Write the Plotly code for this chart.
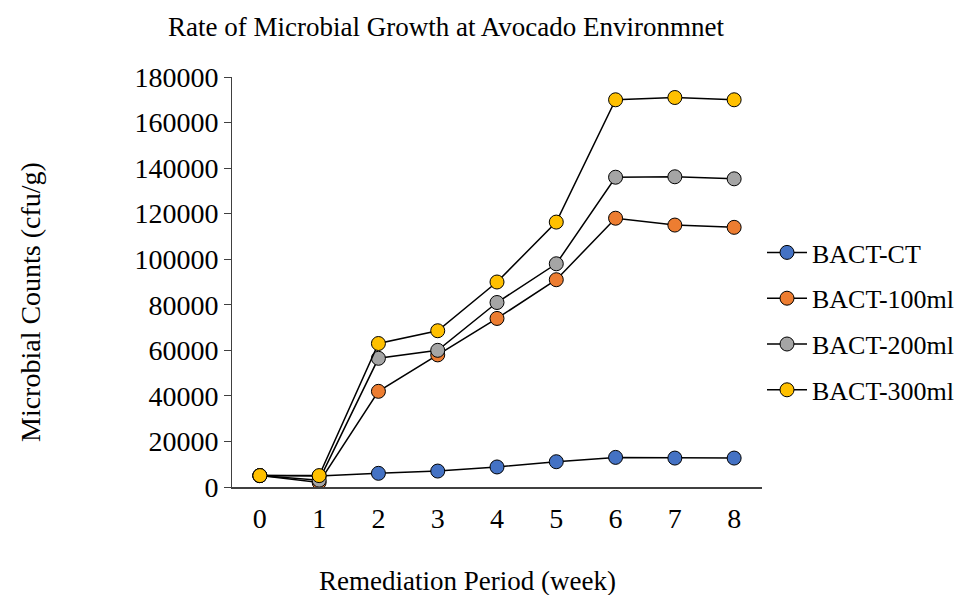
import plotly.graph_objects as go

weeks = [0, 1, 2, 3, 4, 5, 6, 7, 8]
bact_ct = [5000, 4800, 6000, 7000, 8800, 11100, 13000, 12700, 12700]
bact_100 = [5000, 2000, 42000, 58000, 74000, 91000, 118000, 115000, 114000]
bact_200 = [5000, 3000, 56500, 60000, 81000, 98000, 136000, 136200, 135300]
bact_300 = [5000, 5000, 63000, 68600, 90000, 116300, 170000, 171000, 170000]

series_names = ["BACT-CT", "BACT-100ml", "BACT-200ml", "BACT-300ml"]
series_vals = [bact_ct, bact_100, bact_200, bact_300]
colors = ["#4472C4", "#ED7D31", "#A5A5A5", "#FFC000"]

FONT = "Liberation Serif, Times New Roman, serif"

L, R, T, B = 224, 970 - 754, 69, 595 - 479
PW, PH = 970 - L - R, 595 - T - B

fig = go.Figure()
for i, (name, vals, c) in enumerate(zip(series_names, series_vals, colors)):
    fig.add_trace(go.Scatter(
        x=weeks, y=vals, name=name, mode="lines+markers",
        line=dict(color="black", width=1.5),
        marker=dict(size=14, color=c, line=dict(color="black", width=1)),
        legendgroup=f"g{i}",
    ))

fig.update_layout(
    width=970, height=595,
    margin=dict(l=L, r=R, t=T, b=B, autoexpand=False),
    paper_bgcolor="white", plot_bgcolor="white",
    font=dict(family=FONT, color="black", size=27),
    title=dict(text="Rate of Microbial Growth at Avocado Environmnet",
               x=438 / 970, xanchor="center", yref="container", y=1 - 19 / 595,
               yanchor="middle", font=dict(size=27, family=FONT, color="black")),
    showlegend=True,
    legend=dict(x=1.0, xanchor="left", y=(479 - 221) / PH, yanchor="top",
                font=dict(size=26, family=FONT, color="black"),
                itemwidth=40,
                tracegroupgap=9, bgcolor="rgba(0,0,0,0)", borderwidth=0),
    xaxis=dict(range=[-0.47, 8.47], tickmode="array", tickvals=weeks,
               ticktext=[str(w) for w in weeks], showgrid=False, zeroline=False,
               showline=True, linecolor="#404040", linewidth=1.5, ticks="",
               ticklabelstandoff=6,
               tickfont=dict(size=28, family=FONT, color="black")),
    yaxis=dict(range=[0, 180000], dtick=20000, tickformat="d", showgrid=False,
               zeroline=False, showline=True, linecolor="#404040", linewidth=1,
               ticks="outside", ticklen=7, tickcolor="#404040",
               tickfont=dict(size=28, family=FONT, color="black")),
    annotations=[
        dict(text="Remediation Period (week)", xref="paper", yref="paper",
             x=(459 - L) / PW, y=-(573 - 479) / PH, xanchor="center",
             yanchor="middle", showarrow=False,
             font=dict(size=27, family=FONT, color="black")),
        dict(text="Microbial Counts (cfu/g)", xref="paper", yref="paper",
             x=-(L - 22) / PW, y=(479 - 294) / PH, xanchor="center",
             yanchor="middle", textangle=-90, showarrow=False,
             font=dict(size=28, family=FONT, color="black")),
    ],
)

fig.write_html("out.html")
